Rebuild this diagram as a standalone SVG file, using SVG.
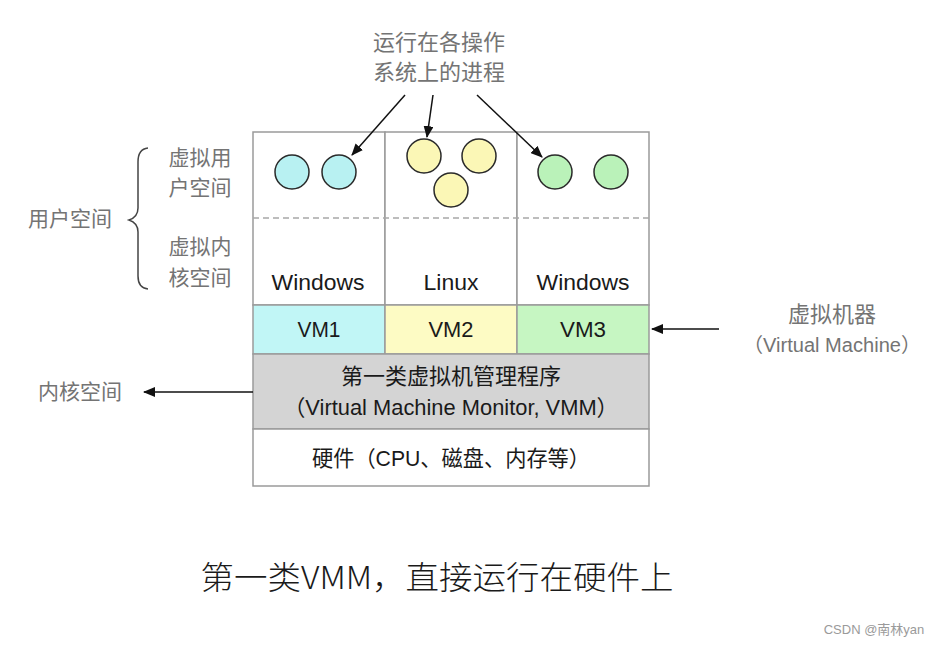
<svg xmlns="http://www.w3.org/2000/svg" width="942" height="646" viewBox="0 0 942 646">
<defs>
<style>
.t{font-family:"Liberation Sans","Noto Sans CJK SC",Arial,sans-serif;fill:#1a1a1a}
.g{font-family:"Liberation Sans","Noto Sans CJK SC",Arial,sans-serif;fill:#747474}
.cell{stroke:#9a9a9a;stroke-width:1.5}
.proc{stroke:#2a2a2a;stroke-width:1.5}
.arr{stroke:#111;stroke-width:1.5;fill:none;marker-end:url(#ah)}
</style>
<marker id="ah" viewBox="0 0 12 10" refX="11" refY="5" markerWidth="12" markerHeight="10" markerUnits="userSpaceOnUse" orient="auto">
<path d="M0,0 L12,5 L0,10 Z" fill="#111"/>
</marker>
</defs>
<rect width="942" height="646" fill="#fff"/>

<g id="os-columns">
<rect class="cell" x="253" y="132" width="132" height="173" fill="#fff"/>
<rect class="cell" x="385" y="132" width="132" height="173" fill="#fff"/>
<rect class="cell" x="517" y="132" width="132" height="173" fill="#fff"/>
<line x1="253" y1="218" x2="649" y2="218" stroke="#a8a8a8" stroke-width="1.5" stroke-dasharray="6,4"/>
<text class="t" x="318" y="290" font-size="22" text-anchor="middle" textLength="93" lengthAdjust="spacingAndGlyphs">Windows</text>
<text class="t" x="451" y="290" font-size="22" text-anchor="middle" textLength="55" lengthAdjust="spacingAndGlyphs">Linux</text>
<text class="t" x="583" y="290" font-size="22" text-anchor="middle" textLength="93" lengthAdjust="spacingAndGlyphs">Windows</text>
</g>

<g id="processes">
<circle class="proc" cx="292" cy="172" r="17" fill="#b8f1f2"/>
<circle class="proc" cx="339" cy="172" r="17" fill="#b8f1f2"/>
<circle class="proc" cx="424" cy="156" r="17" fill="#fbf7b6"/>
<circle class="proc" cx="479" cy="156" r="17" fill="#fbf7b6"/>
<circle class="proc" cx="451" cy="190" r="17" fill="#fbf7b6"/>
<circle class="proc" cx="555" cy="172" r="17" fill="#baf2b9"/>
<circle class="proc" cx="611" cy="172" r="17" fill="#baf2b9"/>
</g>

<g id="vm-row">
<rect class="cell" x="253" y="305" width="132" height="49" fill="#c1f6f6"/>
<rect class="cell" x="385" y="305" width="132" height="49" fill="#fdfbc4"/>
<rect class="cell" x="517" y="305" width="132" height="49" fill="#c6f6c2"/>
<text class="t" x="319" y="337" font-size="22" text-anchor="middle" textLength="43" lengthAdjust="spacingAndGlyphs">VM1</text>
<text class="t" x="451" y="337" font-size="22" text-anchor="middle" textLength="45" lengthAdjust="spacingAndGlyphs">VM2</text>
<text class="t" x="583" y="337" font-size="22" text-anchor="middle" textLength="46" lengthAdjust="spacingAndGlyphs">VM3</text>
</g>

<g id="vmm">
<rect class="cell" x="253" y="354" width="396" height="75" fill="#d4d4d4"/>
<text class="t" x="451" y="384" font-size="22" text-anchor="middle">第一类虚拟机管理程序</text>
<text class="t" x="451" y="415" font-size="22" text-anchor="middle" textLength="335" lengthAdjust="spacingAndGlyphs">（Virtual Machine Monitor, VMM）</text>
</g>

<g id="hardware">
<rect class="cell" x="253" y="429" width="396" height="57" fill="#fff"/>
<text class="t" x="451" y="466" font-size="22" text-anchor="middle" textLength="278" lengthAdjust="spacingAndGlyphs">硬件（CPU、磁盘、内存等）</text>
</g>

<g id="label-processes">
<text class="g" x="439" y="50" font-size="22" text-anchor="middle">运行在各操作</text>
<text class="g" x="439" y="80" font-size="22" text-anchor="middle">系统上的进程</text>
</g>

<g id="label-user-space">
<text class="g" x="70" y="226" font-size="21" text-anchor="middle">用户空间</text>
<path d="M148,148 Q138,149 138,162 L138,208 Q138,217 129,220 Q138,223 138,232 L138,276 Q138,288 148,289" fill="none" stroke="#444" stroke-width="1.5"/>
<text class="g" x="200" y="165" font-size="21" text-anchor="middle">虚拟用</text>
<text class="g" x="200" y="195" font-size="21" text-anchor="middle">户空间</text>
<text class="g" x="200" y="254" font-size="21" text-anchor="middle">虚拟内</text>
<text class="g" x="200" y="285" font-size="21" text-anchor="middle">核空间</text>
</g>

<g id="label-vm">
<text class="g" x="832" y="322" font-size="22" text-anchor="middle">虚拟机器</text>
<text class="g" x="832" y="352" font-size="20" text-anchor="middle" textLength="178" lengthAdjust="spacingAndGlyphs">（Virtual Machine）</text>
</g>

<g id="label-kernel">
<text class="g" x="80" y="399" font-size="21" text-anchor="middle">内核空间</text>
</g>

<g id="connectors">
<line class="arr" x1="405" y1="95" x2="352" y2="155"/>
<line class="arr" x1="433" y1="95" x2="427" y2="137"/>
<line class="arr" x1="477" y1="95" x2="542" y2="157"/>
<line class="arr" x1="719" y1="329" x2="652" y2="329"/>
<line class="arr" x1="253" y1="392" x2="144" y2="392"/>
</g>

<g id="caption">
<text x="437" y="589" font-size="32" text-anchor="middle" textLength="473" lengthAdjust="spacingAndGlyphs" font-family="'Noto Sans CJK SC','Liberation Sans',sans-serif" fill="#1a1a1a" font-weight="300">第一类VMM，直接运行在硬件上</text>
</g>

<g id="watermark">
<text x="874" y="634" font-size="13" text-anchor="middle" font-family="'Liberation Sans','Noto Sans CJK SC',sans-serif" fill="#9a9a9a">CSDN @南林yan</text>
</g>
</svg>
